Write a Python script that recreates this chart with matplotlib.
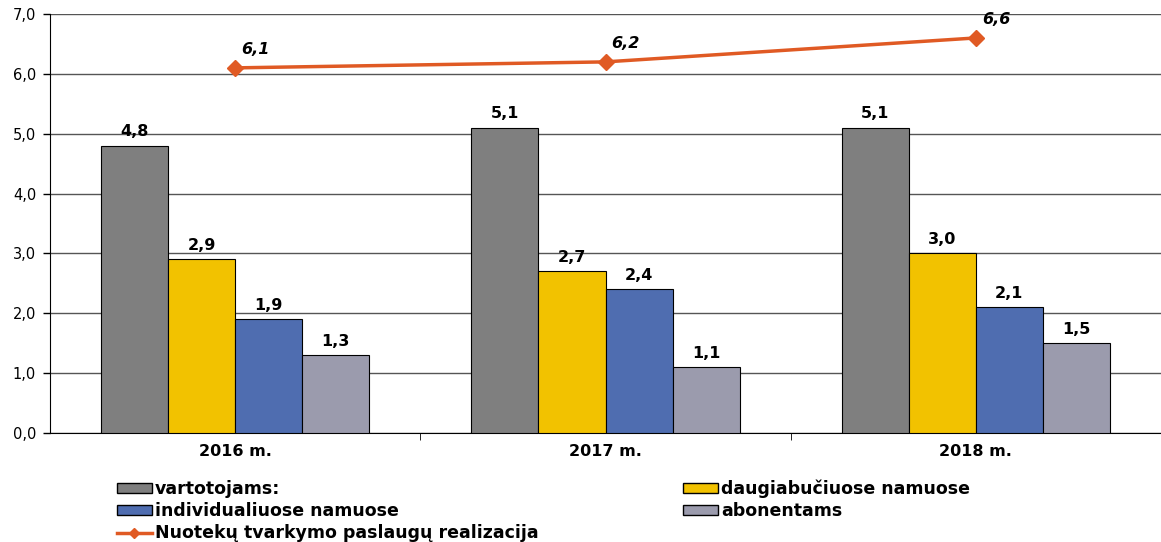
import numpy as np
import matplotlib.pyplot as plt
from matplotlib.lines import Line2D
from matplotlib.patches import Patch

plt.rcParams['font.family'] = ['DejaVu Sans']

years = ['2016 m.', '2017 m.', '2018 m.']
vartotojams = [4.8, 5.1, 5.1]
daugiabuciuose = [2.9, 2.7, 3.0]
individualiuose = [1.9, 2.4, 2.1]
abonentams = [1.3, 1.1, 1.5]
realizacija = [6.1, 6.2, 6.6]

series = [
    ('vartotojams:', vartotojams, '#7f7f7f'),
    ('daugiabučiuose namuose', daugiabuciuose, '#f2c200'),
    ('individualiuose namuose', individualiuose, '#4f6db0'),
    ('abonentams', abonentams, '#9b9bad'),
]
line_color = '#e05a24'

def fmt(v):
    return f'{v:.1f}'.replace('.', ',')

fig = plt.figure(figsize=(11.61, 5.42), dpi=100)
ax = fig.add_axes([50 / 1161, 109 / 542, 1111 / 1161, 419 / 542])

x = np.arange(len(years))
w = 0.181
for i, (name, vals, color) in enumerate(series):
    pos = x + (i - 1.5) * w
    ax.bar(pos, vals, width=w, color=color, edgecolor='black', linewidth=0.8, zorder=3)
    for px, v in zip(pos, vals):
        ax.text(px, v + 0.11, fmt(v), ha='center', va='bottom', fontsize=11.5,
                fontweight='bold', zorder=5)

ax.plot(x, realizacija, color=line_color, linewidth=2.5, marker='D', markersize=8, zorder=4)
for px, v in zip(x, realizacija):
    ax.text(px + 0.055, v + 0.18, fmt(v), ha='center', va='bottom', fontsize=11.5,
            fontweight='bold', fontstyle='italic', zorder=5)

ax.set_xlim(-0.5, 2.5)
ax.set_ylim(0, 7)
ax.set_yticks(np.arange(0, 7.1, 1.0))
ax.set_yticklabels([fmt(v) for v in np.arange(0, 7.1, 1.0)], fontsize=10.5)
ax.set_xticks(x)
ax.set_xticklabels(years, fontsize=11.5, fontweight='bold')
ax.tick_params(axis='x', length=0, pad=8)
ax.set_xticks([0.5, 1.5], minor=True)
ax.tick_params(axis='x', which='minor', length=5, direction='out')
ax.tick_params(axis='y', length=5, direction='out', width=1, pad=5)
ax.yaxis.grid(True, color='#555555', linewidth=1, zorder=0)
ax.set_axisbelow(True)
for s in ['top', 'right']:
    ax.spines[s].set_visible(False)
ax.spines['left'].set_color('black')
ax.spines['bottom'].set_color('black')

handles = [
    Patch(facecolor=series[0][2], edgecolor='black', label=series[0][0]),
    Patch(facecolor=series[2][2], edgecolor='black', label=series[2][0]),
    Line2D([], [], color=line_color, linewidth=2.5, marker='D', markersize=5,
           label='Nuotekų tvarkymo paslaugų realizacija'),
    Patch(facecolor=series[1][2], edgecolor='black', label=series[1][0]),
    Patch(facecolor=series[3][2], edgecolor='black', label=series[3][0]),
]
fig.legend(handles=handles, ncol=2, loc='upper left', bbox_to_anchor=(117 / 1161, 1 - 480 / 542),
           frameon=False, prop={'size': 12.5, 'weight': 'bold'},
           handlelength=2.0, handleheight=0.5, handletextpad=0.2,
           labelspacing=0.22, columnspacing=8.3, borderpad=0, borderaxespad=0)

fig.savefig('out.png', dpi=100)
